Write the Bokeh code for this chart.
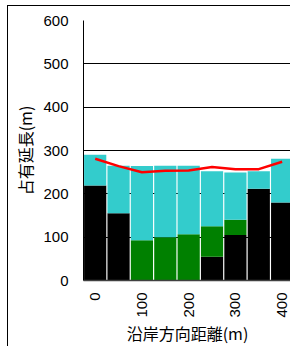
from bokeh.plotting import figure
from bokeh.models import ColumnDataSource, FixedTicker, Range1d
from bokeh.embed import file_html
from bokeh.resources import INLINE

# data
distance = [0, 50, 100, 150, 200, 250, 300, 350, 400]
black_part = [219, 155, 0, 0, 0, 55, 105, 212, 180]
green_part = [0, 0, 93, 100, 107, 70, 35, 0, 0]
cyan_part = [71, 110, 171, 165, 158, 127, 109, 40, 101]
red_line = [281, 264, 250, 253, 254, 262, 257, 257, 274]
x_ticks = [0, 100, 200, 300, 400]
y_ticks = [0, 100, 200, 300, 400, 500, 600]

source = ColumnDataSource(data=dict(x=distance, black=black_part, green=green_part,
                                    cyan=cyan_part, line=red_line))

p = figure(width=283, height=341, output_backend="svg", toolbar_location=None,
           x_range=Range1d(-25, 420), y_range=Range1d(0, 600),
           min_border_left=75, min_border_top=14, min_border_bottom=64, min_border_right=0)
p.styles = {"margin-left": "7px", "margin-top": "5px",
            "border-left": "1px solid #000000", "border-top": "1px solid #000000"}

p.vbar_stack(["black", "green", "cyan"], x="x", width=47.5, source=source,
             color=["#000000", "#008000", "#33CCCC"], line_color=None)
p.line("x", "line", source=source, line_color="#FF0000", line_width=2.5)

p.outline_line_color = None
p.xgrid.visible = False
p.ygrid.grid_line_color = "#000000"
p.ygrid.grid_line_width = 1
p.ygrid.ticker = FixedTicker(ticks=y_ticks)

p.xaxis.ticker = FixedTicker(ticks=x_ticks)
p.yaxis.ticker = FixedTicker(ticks=y_ticks)
for ax in (p.xaxis, p.yaxis):
    ax.major_tick_out = 0
    ax.major_tick_in = 0
    ax.minor_tick_out = 0
    ax.minor_tick_in = 0
    ax.major_label_text_font = "Liberation Sans"
    ax.major_label_text_font_size = "15px"
    ax.major_label_text_color = "#000000"
    ax.axis_label_text_font = "Noto Sans CJK JP"
    ax.axis_label_text_font_size = "16px"
    ax.axis_label_text_font_style = "normal"
    ax.axis_label_text_color = "#000000"
    ax.axis_label_text_line_height = 1.0

p.yaxis.axis_line_color = "#000000"
p.yaxis.major_label_standoff = 15
p.yaxis.axis_label = "占有延長(m)"
p.yaxis.axis_label_standoff = 3

p.xaxis.axis_line_color = "#404040"
p.xaxis.axis_line_width = 1.5
p.xaxis.major_label_orientation = 1.5708
p.xaxis.major_label_standoff = 12
p.xaxis.axis_label = "沿岸方向距離(m)"
p.xaxis.axis_label_standoff = 0

open("out.html", "w").write(file_html(p, INLINE))
